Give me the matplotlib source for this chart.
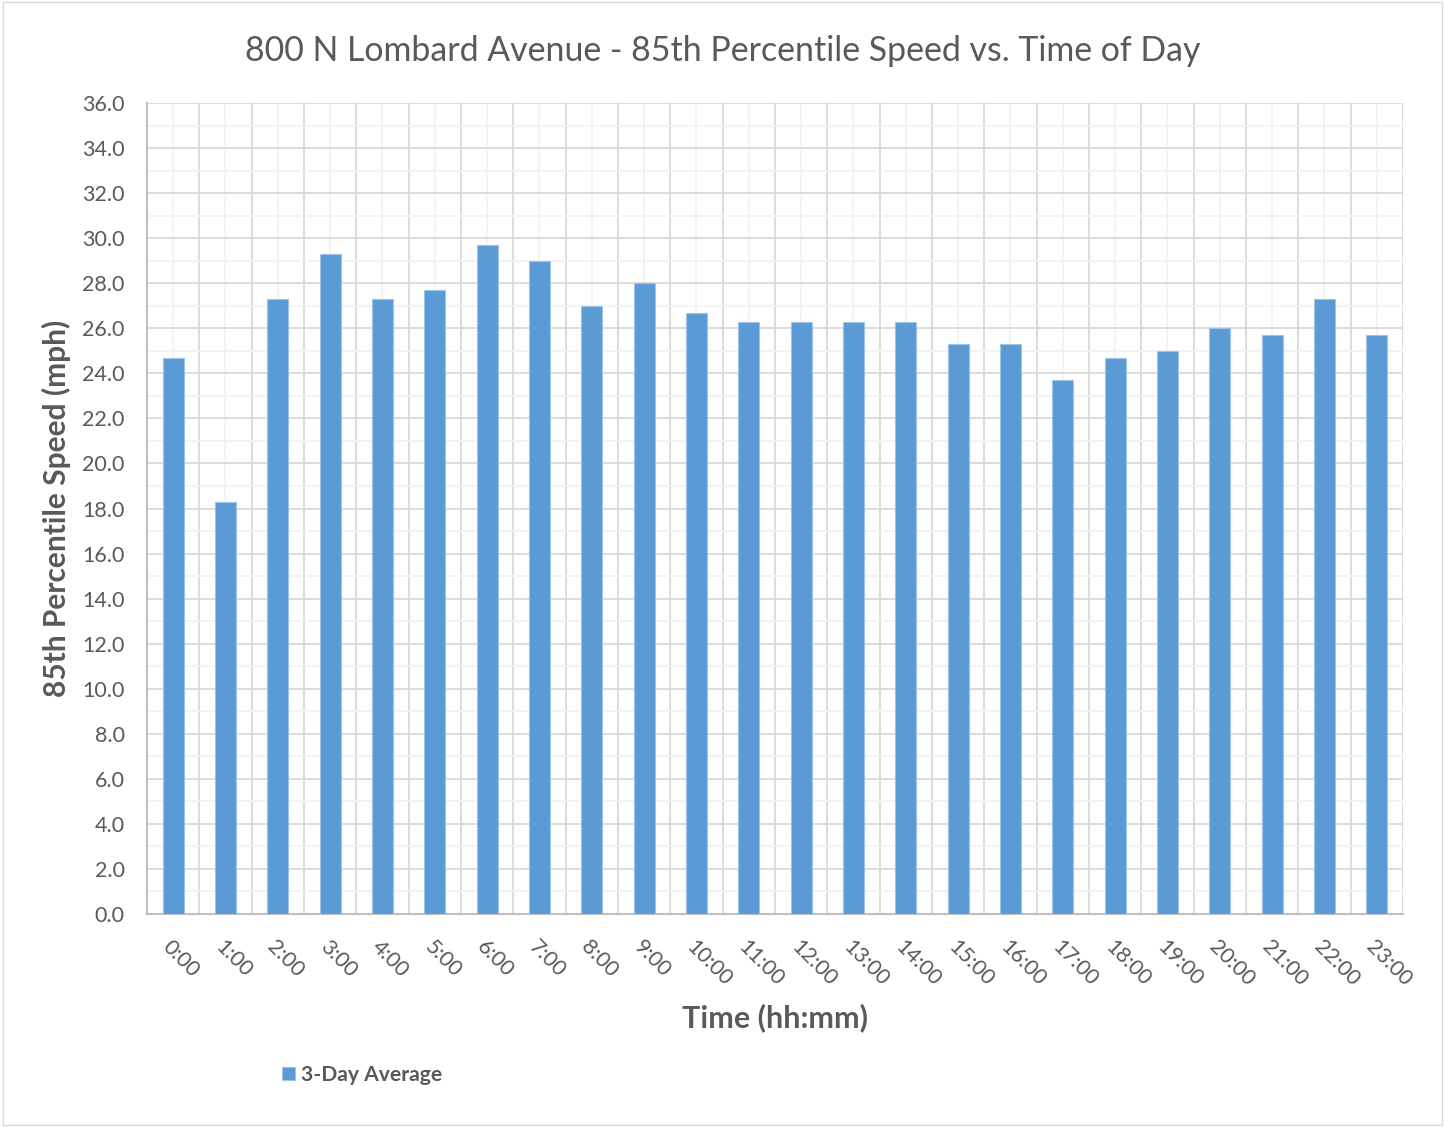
import numpy as np
import matplotlib.pyplot as plt
from matplotlib.ticker import MultipleLocator, FormatStrFormatter

# 85th percentile speed per hour (mph), 3-day average
hours = [f"{h}:00" for h in range(24)]
speed = [24.7, 18.3, 27.3, 29.3, 27.3, 27.7, 29.7, 29.0, 27.0, 28.0,
         26.7, 26.3, 26.3, 26.3, 26.3, 25.3, 25.3, 23.7, 24.7, 25.0,
         26.0, 25.7, 27.3, 25.7]
series_name = "3-Day Average"

plt.rcParams['font.family'] = ['Lato', 'DejaVu Sans']
txt = '#595959'

fig = plt.figure(figsize=(14.45, 11.27), dpi=100)
fig.patches.append(plt.Rectangle((0.002, 0.002), 0.996, 0.996, transform=fig.transFigure,
                                 fill=False, edgecolor='#D9D9D9', linewidth=1))
ax = fig.add_axes([0.1017, 0.189, 0.8692, 0.7196])

x = np.arange(len(hours))
ax.bar(x, speed, width=0.4, color='#5B9BD5', edgecolor='#9DC3E6', linewidth=0.8,
       label=series_name, zorder=3)

ax.set_xlim(-0.5, len(hours) - 0.5)
ax.set_ylim(0, 36)
ax.yaxis.set_major_locator(MultipleLocator(2))
ax.yaxis.set_minor_locator(MultipleLocator(1))
ax.yaxis.set_major_formatter(FormatStrFormatter('%.1f'))
ax.set_xticks(x)
ax.set_xticks(np.arange(-0.5, len(hours), 1.0), minor=True)

# category boundaries are the major vertical lines, centres the light ones
ax.grid(True, which='major', axis='y', color='#D9D9D9', linewidth=1.3, zorder=0)
ax.grid(True, which='minor', axis='y', color='#F2F2F2', linewidth=1.3, zorder=0)
ax.grid(True, which='minor', axis='x', color='#D9D9D9', linewidth=1.3, zorder=0)
ax.grid(True, which='major', axis='x', color='#F2F2F2', linewidth=1.3, zorder=0)
ax.set_axisbelow(True)

ax.set_xticklabels(hours, rotation=-45, ha='left', va='top', rotation_mode='anchor',
                   fontsize=15.5, color=txt)
for lab in ax.get_yticklabels():
    lab.set_fontsize(15.5)
    lab.set_color(txt)
ax.tick_params(axis='both', which='both', length=0)
ax.tick_params(axis='x', pad=16)
ax.tick_params(axis='y', pad=16)

for side in ['top', 'right']:
    ax.spines[side].set_visible(False)
for side in ['left', 'bottom']:
    ax.spines[side].set_color('#BFBFBF')
    ax.spines[side].set_linewidth(1.5)

ax.set_xlabel('Time (hh:mm)', fontsize=22, fontweight='bold', color=txt, labelpad=10)
ax.set_ylabel('85th Percentile Speed (mph)', fontsize=21.5, fontweight='bold', color=txt,
              labelpad=8)
fig.text(0.5, 0.955, '800 N Lombard Avenue - 85th Percentile Speed vs. Time of Day',
         ha='center', va='center', fontsize=24.4, color=txt)

fig.legend(loc='center left', bbox_to_anchor=(0.182, 0.046), frameon=False,
           prop={'weight': 'bold', 'size': 15.2}, handlelength=0.6,
           handleheight=0.6, handletextpad=0.3, labelcolor=txt)

fig.savefig('out.png', dpi=100)
